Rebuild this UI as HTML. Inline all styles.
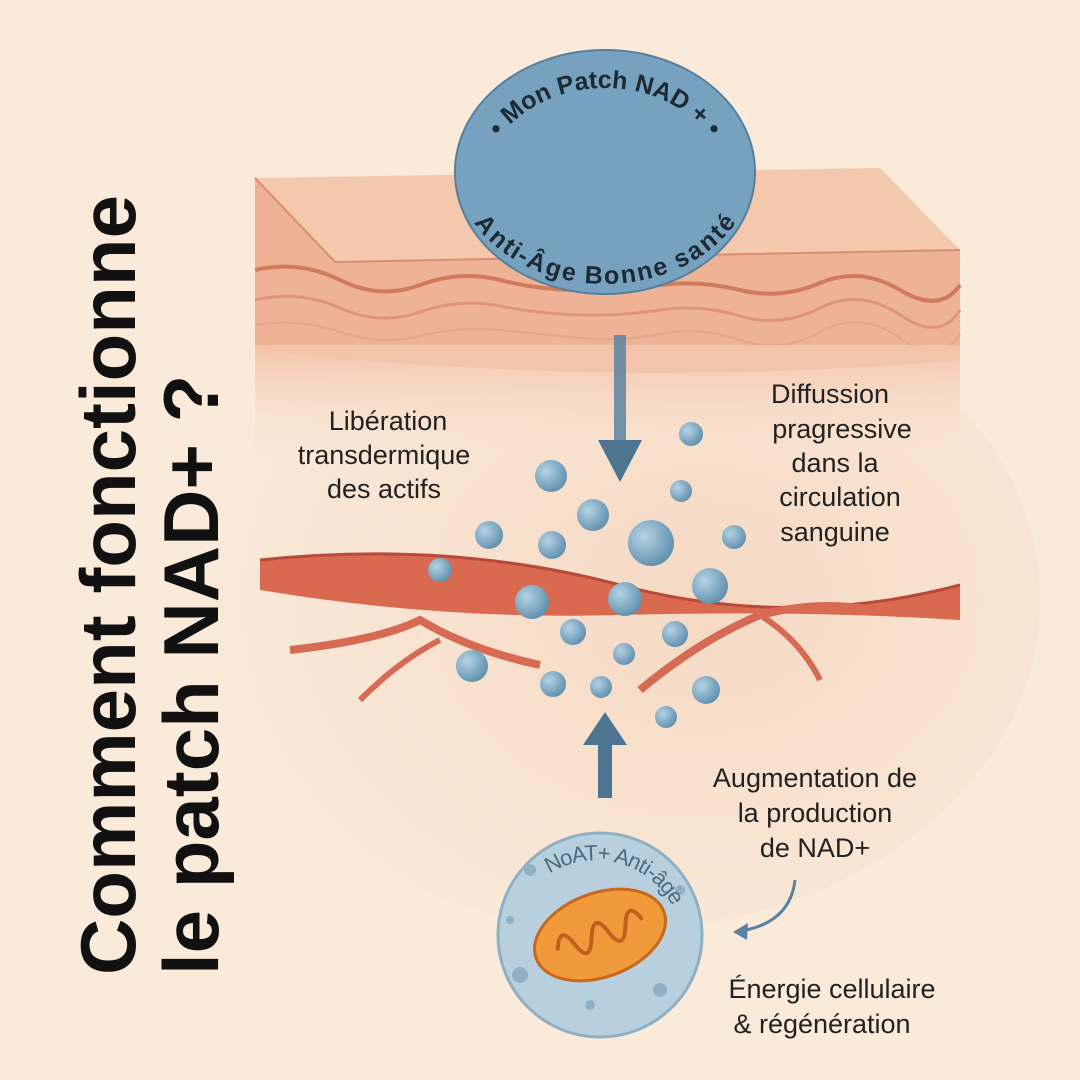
<!DOCTYPE html>
<html><head><meta charset="utf-8"><style>
html,body{margin:0;padding:0;}
body{width:1080px;height:1080px;background:#f9ead9;overflow:hidden;}
svg{display:block}
text{font-family:"Liberation Sans",sans-serif;}
</style></head><body>
<svg width="1080" height="1080" viewBox="0 0 1080 1080">
<defs>
<radialGradient id="bg" cx="0.6" cy="0.5" r="0.6">
<stop offset="0" stop-color="#f6d9c4"/><stop offset="1" stop-color="#f9ead9"/></radialGradient>
<linearGradient id="fade" x1="0" y1="0" x2="0" y2="1">
<stop offset="0" stop-color="#f3c3a8"/><stop offset="1" stop-color="#f9e6d6" stop-opacity="0"/></linearGradient>
<radialGradient id="bub" cx="0.35" cy="0.35" r="0.7">
<stop offset="0" stop-color="#b5d3e4"/><stop offset="1" stop-color="#5f8fad"/></radialGradient>
<path id="topArc" d="M485 170 A122 100 0 0 1 725 170"/>
<path id="botArc" d="M480 185 A128 98 0 0 0 730 185"/>
<path id="cellArc" d="M520 890 A95 95 0 0 1 690 935"/>
</defs>
<rect width="1080" height="1080" fill="#f9ead9"/>
<ellipse cx="620" cy="600" rx="420" ry="330" fill="url(#bg)"/>
<path d="M255 178 L880 168 L960 250 L335 262 Z" fill="#f3c8ad"/>
<path d="M255 178 L335 262 L960 250 L960 360 Q620 390 255 350 Z" fill="#eeb294"/>
<path d="M255 178 L335 262 L960 250" fill="none" stroke="#d98e70" stroke-width="2"/>
<path d="M255 270 Q300 260 340 280 T420 285 T500 280 T580 290 T660 285 T740 290 T820 283 T900 290 T960 285" fill="none" stroke="#d17a5e" stroke-width="4"/>
<path d="M255 300 Q300 290 340 308 T420 312 T500 306 T580 315 T660 310 T740 316 T820 308 T900 315 T960 310" fill="none" stroke="#de947a" stroke-width="3"/>
<path d="M255 325 Q300 318 340 332 T420 336 T500 330 T580 338 T660 334 T740 340 T820 332 T900 338 T960 334" fill="none" stroke="#e3a58b" stroke-width="2"/>
<rect x="255" y="345" width="705" height="120" fill="url(#fade)"/>
<path d="M260 560 Q450 540 620 585 T960 585 L960 620 Q800 610 620 615 T260 590 Z" fill="#d96a50"/>
<path d="M260 560 Q450 540 620 585 T960 585" fill="none" stroke="#b9493a" stroke-width="3"/>
<path d="M290 650 Q380 640 420 620 Q470 650 540 665" fill="none" stroke="#d66a52" stroke-width="8"/>
<path d="M360 700 Q400 660 440 640" fill="none" stroke="#d66a52" stroke-width="6"/>
<path d="M640 690 Q700 640 760 615 Q820 600 870 610" fill="none" stroke="#d66a52" stroke-width="8"/>
<path d="M760 615 Q800 640 820 680" fill="none" stroke="#d66a52" stroke-width="6"/>
<ellipse cx="605" cy="172" rx="150" ry="122" fill="#76a1bf" stroke="#557f9c" stroke-width="2"/>
<text font-size="25" font-weight="bold" fill="#1d2a33"><textPath href="#topArc" startOffset="50%" text-anchor="middle">• Mon Patch NAD + •</textPath></text>
<text font-size="25" font-weight="bold" fill="#1d2a33" dy="22"><textPath href="#botArc" startOffset="50%" text-anchor="middle">Anti-Âge Bonne santé</textPath></text>
<rect x="614" y="335" width="12" height="110" fill="#5a82a0" opacity="0.85"/>
<path d="M598 440 L642 440 L620 482 Z" fill="#4d7592"/>
<rect x="598" y="740" width="14" height="58" fill="#4d7592"/>
<path d="M583 745 L627 745 L605 712 Z" fill="#4d7592"/>
<g fill="url(#bub)">
<circle cx="691" cy="434" r="12"/><circle cx="551" cy="476" r="16"/><circle cx="681" cy="491" r="11"/>
<circle cx="593" cy="515" r="16"/><circle cx="489" cy="535" r="14"/><circle cx="552" cy="545" r="14"/>
<circle cx="651" cy="543" r="23"/><circle cx="734" cy="537" r="12"/><circle cx="440" cy="570" r="12"/>
<circle cx="710" cy="586" r="18"/><circle cx="532" cy="602" r="17"/><circle cx="625" cy="599" r="17"/>
<circle cx="573" cy="632" r="13"/><circle cx="675" cy="634" r="13"/><circle cx="624" cy="654" r="11"/>
<circle cx="472" cy="666" r="16"/><circle cx="553" cy="684" r="13"/><circle cx="601" cy="687" r="11"/>
<circle cx="706" cy="690" r="14"/><circle cx="666" cy="717" r="11"/>
</g>
<circle cx="600" cy="935" r="102" fill="#b8cfdd" stroke="#8fb0c4" stroke-width="3"/>
<g fill="#8fb0c6"><circle cx="530" cy="870" r="6"/><circle cx="660" cy="990" r="7"/><circle cx="520" cy="975" r="8"/><circle cx="680" cy="890" r="5"/><circle cx="590" cy="1005" r="5"/><circle cx="510" cy="920" r="4"/></g>
<text font-size="22" fill="#4a6a80" dy="8"><textPath href="#cellArc" startOffset="50%" text-anchor="middle">NoAT+ Anti-âge</textPath></text>
<g transform="rotate(-20 600 935)">
<ellipse cx="600" cy="935" rx="68" ry="42" fill="#f09a3c" stroke="#c8681d" stroke-width="3"/>
<path d="M555 935 q10 -25 18 0 t18 0 t18 0 t18 0 t18 0" fill="none" stroke="#c25f1c" stroke-width="4"/>
</g>
<path d="M795 880 Q790 925 735 932" fill="none" stroke="#5a82a0" stroke-width="3"/>
<path d="M733 932 L748 923 L747 940 Z" fill="#5a82a0"/>
<g font-size="27" fill="#222" text-anchor="middle">
<text x="388" y="430">Libération</text><text x="384" y="464">transdermique</text><text x="384" y="498">des actifs</text>
<text x="830" y="403">Diffussion</text><text x="842" y="438">pragressive</text><text x="835" y="472">dans la</text><text x="840" y="506">circulation</text><text x="835" y="541">sanguine</text>
<text x="815" y="787">Augmentation de</text><text x="815" y="822">la production</text><text x="815" y="857">de NAD+</text>
<text x="832" y="998">Énergie cellulaire</text><text x="822" y="1033">&amp; régénération</text>
</g>
<g font-size="78" font-weight="bold" fill="#111">
<text transform="translate(135 975) rotate(-90)">Comment fonctionne</text>
<text transform="translate(218 975) rotate(-90)">le patch NAD+ ?</text>
</g>
</svg>
</body></html>
